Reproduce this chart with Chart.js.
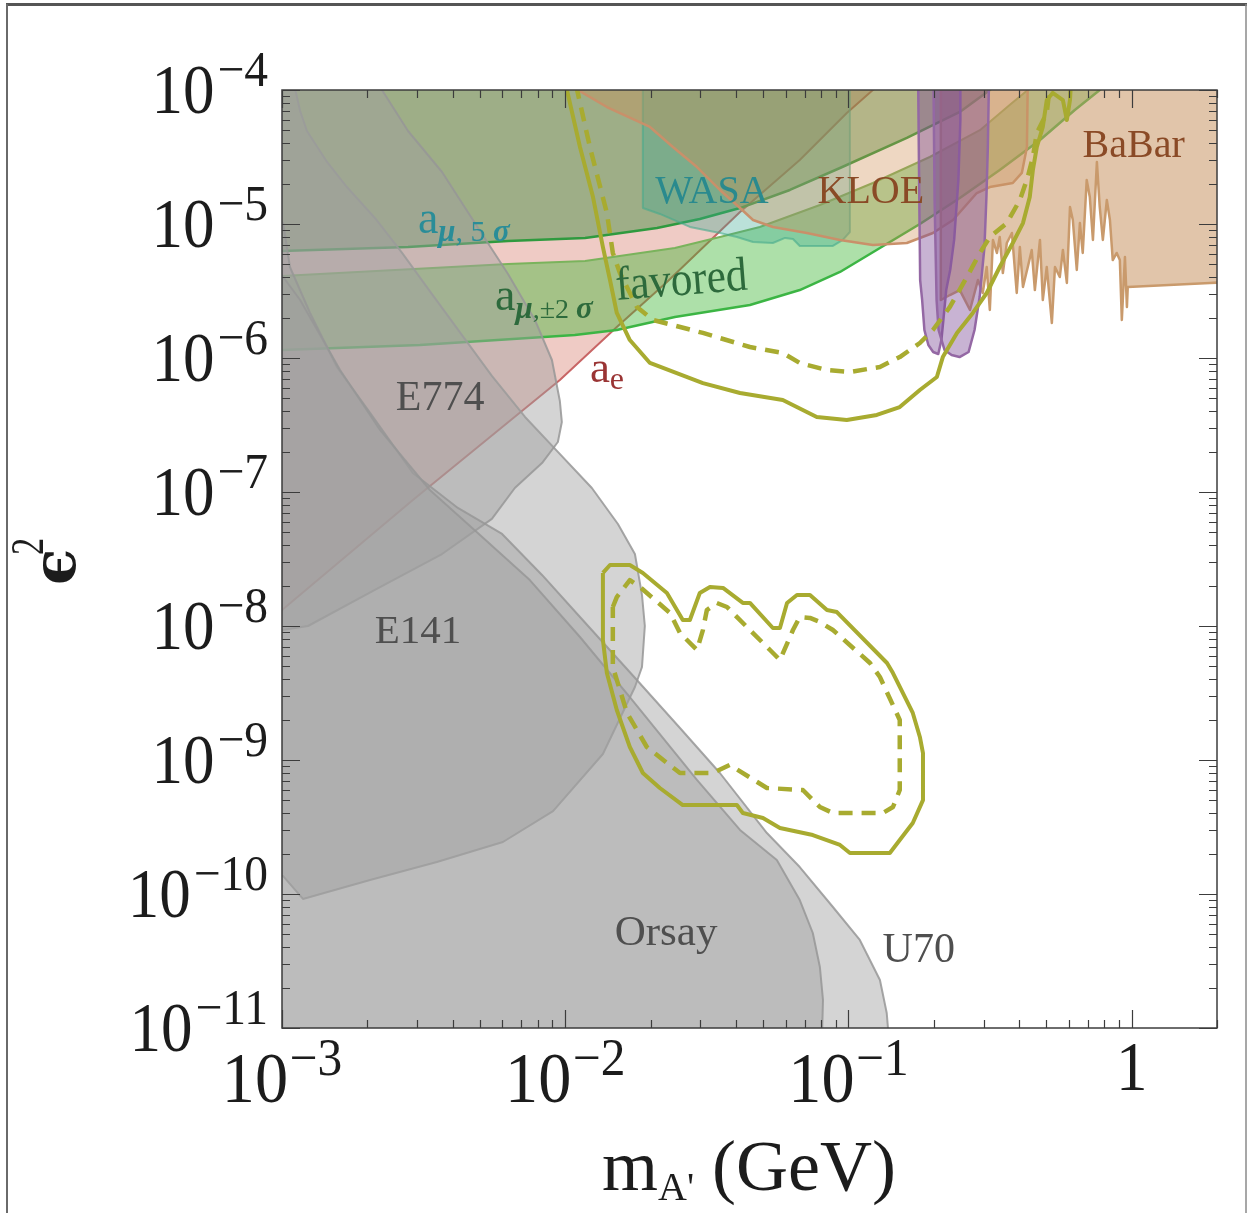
<!DOCTYPE html>
<html>
<head>
<meta charset="utf-8">
<script src="https://cdn.jsdelivr.net/npm/chart.js@4.4.1/dist/chart.umd.min.js"></script>
<style>
  html, body { margin: 0; padding: 0; background: #fff; }
  canvas { display: block; }
</style>
</head>
<body>
<canvas id="plot" width="1249" height="1213" style="width:1249px;height:1213px"></canvas>
<script>
// every point is [log10(m_A' / GeV), log10(eps^2)]

const E141 = [[-3.04,-3.925],[-2.961,-3.925],[-2.936,-4.157],[-2.912,-4.306],[-2.841,-4.537],[-2.771,-4.724],[-2.672,-4.955],[-2.576,-5.216],[-2.471,-5.522],[-2.365,-5.828],[-2.259,-6.134],[-2.142,-6.440],[-2.026,-6.701],[-1.906,-6.970],[-1.814,-7.239],[-1.754,-7.463],[-1.729,-7.769],[-1.719,-8.000],[-1.729,-8.306],[-1.754,-8.455],[-1.867,-8.955],[-2.043,-9.381],[-2.220,-9.612],[-2.453,-9.761],[-2.689,-9.896],[-2.926,-10.037],[-2.996,-9.866],[-3.04,-9.866]];

const E774 = [[-3.04,-3.925],[-2.654,-3.925],[-2.647,-4.000],[-2.555,-4.306],[-2.435,-4.612],[-2.319,-4.993],[-2.202,-5.373],[-2.107,-5.716],[-2.047,-6.015],[-2.019,-6.321],[-2.012,-6.478],[-2.026,-6.627],[-2.082,-6.784],[-2.178,-6.970],[-2.259,-7.201],[-2.435,-7.463],[-2.672,-7.731],[-2.908,-8.000],[-3.000,-8.030],[-3.04,-8.040]];

const U70 = [[-3.04,-4.933],[-2.996,-4.993],[-2.972,-5.321],[-2.901,-5.664],[-2.806,-6.067],[-2.689,-6.410],[-2.538,-6.858],[-2.379,-7.119],[-2.223,-7.313],[-2.082,-7.619],[-1.948,-7.933],[-1.747,-8.403],[-1.595,-8.761],[-1.454,-9.097],[-1.288,-9.545],[-1.172,-9.799],[-1.055,-10.097],[-0.960,-10.343],[-0.889,-10.642],[-0.865,-10.888],[-0.857,-11.09],[-3.04,-11.09]];

const ORSAY = [[-3.04,-5.269],[-2.936,-5.567],[-2.795,-6.090],[-2.654,-6.537],[-2.478,-6.985],[-2.301,-7.321],[-2.125,-7.657],[-1.948,-8.082],[-1.772,-8.530],[-1.535,-9.149],[-1.383,-9.522],[-1.253,-9.746],[-1.172,-10.045],[-1.126,-10.291],[-1.101,-10.545],[-1.090,-10.791],[-1.094,-11.09],[-3.04,-11.09]];

// a_e: everything above the red line
const A_E = [[-3.05,-7.97],[-3.00,-7.881],[-2.538,-7.060],[-2.019,-6.164],[-1.818,-5.769],[-1.641,-5.433],[-1.383,-4.910],[-1.172,-4.522],[-1.006,-4.172],[-0.914,-4.000],[-0.854,-3.888],[-3.05,-3.888]];

// a_mu 5 sigma: everything above the line
const FIVE_SIGMA = [[-3.04,-5.209],[-3.00,-5.201],[-2.555,-5.172],[-2.202,-5.127],[-1.930,-5.104],[-1.676,-5.030],[-1.525,-4.963],[-1.383,-4.881],[-1.207,-4.746],[-1.030,-4.582],[-0.794,-4.358],[-0.607,-4.164],[-0.501,-4.000],[-0.448,-3.910],[-3.04,-3.910]];

// a_mu +-2 sigma favoured band, upper and lower edge
const FAV_UP = [[-3.04,-5.396],[-3.00,-5.388],[-2.202,-5.299],[-1.930,-5.276],[-1.613,-5.179],[-1.454,-5.097],[-1.313,-5.022],[-1.101,-4.858],[-0.914,-4.694],[-0.713,-4.500],[-0.536,-4.300],[-0.430,-4.110],[-0.367,-4.000],[-0.324,-3.910]];
const FAV_LOW = [[-3.04,-5.948],[-3.00,-5.940],[-2.513,-5.903],[-1.966,-5.828],[-1.818,-5.791],[-1.613,-5.694],[-1.348,-5.604],[-1.172,-5.493],[-1.030,-5.358],[-0.889,-5.179],[-0.748,-5.000],[-0.607,-4.806],[-0.466,-4.597],[-0.324,-4.373],[-0.201,-4.149],[-0.113,-4.000],[-0.077,-3.940]];

const WASA = [[-1.726,-3.925],[-1.726,-4.881],[-1.666,-4.925],[-1.560,-5.022],[-1.454,-5.067],[-1.394,-5.097],[-1.337,-5.134],[-1.267,-5.142],[-1.224,-5.104],[-1.196,-5.112],[-1.172,-5.164],[-1.055,-5.164],[-1.020,-5.119],[-0.995,-5.060],[-0.995,-3.925]];

const KLOE = [[-1.973,-3.925],[-1.973,-3.978],[-1.853,-4.127],[-1.701,-4.276],[-1.620,-4.425],[-1.535,-4.575],[-1.454,-4.746],[-1.383,-4.881],[-1.337,-4.970],[-1.267,-5.022],[-1.147,-5.067],[-1.030,-5.119],[-0.914,-5.157],[-0.794,-5.142],[-0.702,-5.067],[-0.631,-4.970],[-0.547,-4.769],[-0.501,-4.724],[-0.420,-4.694],[-0.388,-4.619],[-0.370,-4.425],[-0.367,-3.925]];

const BABAR = [[-0.674,-3.925],[-0.674,-5.567],[-0.642,-5.530],[-0.607,-5.493],[-0.571,-5.642],[-0.543,-5.418],[-0.526,-5.515],[-0.512,-5.321],[-0.501,-5.642],[-0.490,-5.119],[-0.476,-5.216],[-0.466,-5.097],[-0.455,-5.366],[-0.441,-5.142],[-0.423,-5.067],[-0.406,-5.515],[-0.395,-5.172],[-0.384,-5.470],[-0.367,-5.321],[-0.353,-5.194],[-0.342,-5.493],[-0.324,-5.119],[-0.314,-5.567],[-0.300,-5.321],[-0.282,-5.739],[-0.271,-5.321],[-0.254,-5.396],[-0.243,-5.194],[-0.229,-5.440],[-0.218,-4.873],[-0.208,-4.970],[-0.194,-5.343],[-0.183,-4.993],[-0.173,-5.216],[-0.159,-4.672],[-0.148,-4.799],[-0.137,-5.119],[-0.123,-4.537],[-0.113,-4.873],[-0.102,-5.119],[-0.088,-4.821],[-0.077,-4.970],[-0.067,-5.269],[-0.053,-5.216],[-0.042,-5.269],[-0.035,-5.716],[-0.024,-5.246],[-0.017,-5.619],[-0.014,-5.470],[0.276,-5.440],[0.346,-5.433],[0.346,-3.925]];

const PURPLE_A = [[-0.754,-3.925],[-0.750,-4.821],[-0.747,-5.418],[-0.740,-5.567],[-0.732,-5.791],[-0.718,-5.903],[-0.701,-5.955],[-0.683,-5.970],[-0.672,-5.866],[-0.665,-5.716],[-0.655,-5.493],[-0.641,-5.343],[-0.627,-5.119],[-0.612,-4.672],[-0.605,-4.224],[-0.605,-3.925]];
const PURPLE_B = [[-0.700,-3.925],[-0.696,-4.821],[-0.689,-5.567],[-0.682,-5.791],[-0.661,-5.940],[-0.636,-5.978],[-0.608,-5.993],[-0.576,-5.955],[-0.555,-5.791],[-0.537,-5.545],[-0.520,-5.172],[-0.513,-4.799],[-0.508,-4.425],[-0.504,-3.925]];

// projected reach, upper contours (open) and lower island (closed)
const REACH_UP_SOLID = [[-1.998,-3.963],[-1.948,-4.425],[-1.902,-4.799],[-1.867,-5.172],[-1.842,-5.418],[-1.818,-5.664],[-1.772,-5.866],[-1.701,-6.037],[-1.514,-6.187],[-1.383,-6.261],[-1.232,-6.313],[-1.112,-6.440],[-1.006,-6.463],[-0.900,-6.425],[-0.819,-6.366],[-0.748,-6.239],[-0.688,-6.142],[-0.667,-5.993],[-0.617,-5.813],[-0.561,-5.664],[-0.512,-5.515],[-0.466,-5.321],[-0.420,-5.142],[-0.384,-4.993],[-0.360,-4.799],[-0.349,-4.597],[-0.335,-4.425],[-0.314,-4.276],[-0.300,-4.075],[-0.279,-4.022],[-0.243,-4.075],[-0.229,-4.224],[-0.218,-4.075],[-0.215,-3.963]];
const REACH_UP_DASHED = [[-1.962,-3.963],[-1.913,-4.425],[-1.853,-4.918],[-1.832,-5.216],[-1.807,-5.366],[-1.747,-5.619],[-1.690,-5.716],[-1.514,-5.813],[-1.348,-5.918],[-1.232,-5.963],[-1.172,-6.037],[-1.076,-6.090],[-0.995,-6.104],[-0.889,-6.067],[-0.819,-5.993],[-0.748,-5.888],[-0.702,-5.791],[-0.642,-5.619],[-0.582,-5.396],[-0.536,-5.216],[-0.501,-5.097],[-0.441,-4.993],[-0.395,-4.821],[-0.367,-4.649],[-0.349,-4.500],[-0.335,-4.321],[-0.300,-4.172],[-0.289,-3.963]];
const REACH_LOW_SOLID = [[-1.867,-7.604],[-1.842,-7.545],[-1.772,-7.545],[-1.726,-7.604],[-1.641,-7.754],[-1.585,-7.955],[-1.560,-7.955],[-1.525,-7.754],[-1.489,-7.709],[-1.443,-7.716],[-1.373,-7.828],[-1.348,-7.828],[-1.267,-8.015],[-1.242,-8.015],[-1.217,-7.828],[-1.182,-7.769],[-1.136,-7.769],[-1.076,-7.881],[-1.041,-7.896],[-0.864,-8.276],[-0.843,-8.351],[-0.773,-8.649],[-0.748,-8.828],[-0.737,-8.948],[-0.737,-9.299],[-0.773,-9.470],[-0.819,-9.597],[-0.854,-9.694],[-0.995,-9.694],[-1.030,-9.634],[-1.126,-9.560],[-1.242,-9.507],[-1.302,-9.433],[-1.373,-9.396],[-1.394,-9.336],[-1.585,-9.336],[-1.666,-9.209],[-1.726,-9.097],[-1.772,-8.903],[-1.818,-8.627],[-1.853,-8.351],[-1.867,-8.104]];
const REACH_LOW_DASHED = [[-1.832,-7.858],[-1.818,-7.784],[-1.772,-7.657],[-1.736,-7.709],[-1.630,-7.903],[-1.595,-8.052],[-1.535,-8.179],[-1.514,-8.030],[-1.500,-7.881],[-1.465,-7.828],[-1.429,-7.858],[-1.359,-8.007],[-1.277,-8.179],[-1.242,-8.254],[-1.196,-8.030],[-1.172,-7.933],[-1.136,-7.940],[-1.101,-7.970],[-1.055,-8.030],[-0.924,-8.276],[-0.889,-8.381],[-0.819,-8.701],[-0.819,-9.224],[-0.843,-9.351],[-0.879,-9.396],[-1.055,-9.396],[-1.101,-9.351],[-1.161,-9.224],[-1.288,-9.209],[-1.419,-9.037],[-1.479,-9.097],[-1.595,-9.097],[-1.641,-9.022],[-1.712,-8.903],[-1.782,-8.649],[-1.832,-8.306]];

const X_TICKS = [1e-3, 1e-2, 1e-1, 1];
const X_TICK_TEXT = [['10', '−3'], ['10', '−2'], ['10', '−1'], ['1', '']];
const Y_TICKS = [1e-4, 1e-5, 1e-6, 1e-7, 1e-8, 1e-9, 1e-10, 1e-11];
const Y_TICK_TEXT = [['10', '−4'], ['10', '−5'], ['10', '−6'], ['10', '−7'], ['10', '−8'], ['10', '−9'], ['10', '−10'], ['10', '−11']];

// region labels, anchored in the same log units
const LABELS = [
  { at: [-1.482, -4.843], color: '#2a8a8e', align: 'center', runs: [['WASA', 40]] },
  { at: [-0.921, -4.843], color: '#8a4a26', align: 'center', runs: [['KLOE', 40]] },
  { at: [0.007, -4.500], color: '#8a4a26', align: 'center', runs: [['BaBar', 40]] },
  { at: [-2.442, -6.388], color: '#4f4f4f', align: 'center', runs: [['E774', 42]] },
  { at: [-2.520, -8.127], color: '#4f4f4f', align: 'center', runs: [['E141', 41]] },
  { at: [-1.644, -10.381], color: '#4f4f4f', align: 'center', runs: [['Orsay', 43]] },
  { at: [-0.752, -10.507], color: '#4f4f4f', align: 'center', runs: [['U70', 42]] },
  { at: [-1.913, -6.179], color: '#9a3434', align: 'left', runs: [['a', 45], ['e', 32, 7]] },
  { at: [-2.520, -5.067], color: '#2a8d98', align: 'left', runs: [['a', 46], ['μ', 31, 8, 'italic bold '], [', 5 ', 30, 8], ['σ', 31, 8, 'italic bold ']] },
  { at: [-2.248, -5.642], color: '#2d6a3c', align: 'left', runs: [['a', 46], ['μ', 31, 8, 'italic bold '], [',±2 ', 28, 8], ['σ', 31, 8, 'italic bold ']] },
  { at: [-1.818, -5.567], color: '#2d6a3c', align: 'left', rot: -4.5, runs: [['favored', 48, 0, '', 0.9]] }
];

const SERIF = '"Liberation Serif", "DejaVu Serif", serif';

const toXY = arr => arr.map(([lm, le]) => ({ x: Math.pow(10, lm), y: Math.pow(10, le) }));
const closed = arr => toXY(arr.concat([arr[0]]));

function region(data, fill, line, width) {
  return {
    data: closed(data), fill: 'shape', backgroundColor: fill,
    borderColor: line || 'rgba(0,0,0,0)', borderWidth: width || 1
  };
}
function curve(data, color, width, dash) {
  return { data: toXY(data), fill: false, borderColor: color, borderWidth: width, borderDash: dash || [] };
}

// bottom layer first
const GRAY_FILL = 'rgba(160,160,160,0.45)';
const GRAY_LINE = 'rgba(150,150,150,0.85)';
const YELLOW = '#a8ab30';
const DASH = [14, 9];
const layers = [
  region(A_E, 'rgba(215,125,110,0.40)', '#c86565', 2),
  region(FAV_UP.concat(FAV_LOW.slice().reverse()), 'rgba(60,180,50,0.42)'),
  curve(FAV_UP, '#7ab35c', 2),
  curve(FAV_LOW, '#3cb544', 2.5),
  region(FIVE_SIGMA, 'rgba(60,140,60,0.45)', '#2f9a3f', 2.5),
  region(WASA, 'rgba(60,170,145,0.35)', 'rgba(70,170,140,0.6)', 2),
  region(KLOE, 'rgba(205,140,80,0.35)', '#c9906a', 2.5),
  region(BABAR, 'rgba(200,150,100,0.55)', '#c99a6c', 2.5),
  region(E141, GRAY_FILL, GRAY_LINE, 2),
  region(E774, GRAY_FILL, GRAY_LINE, 2),
  region(U70, GRAY_FILL, GRAY_LINE, 2),
  region(ORSAY, GRAY_FILL, GRAY_LINE, 2),
  region(PURPLE_A, 'rgba(125,75,150,0.42)', '#9468a4', 2.5),
  region(PURPLE_B, 'rgba(125,75,150,0.42)', '#9468a4', 2.5),
  curve(REACH_UP_SOLID, YELLOW, 4),
  curve(REACH_UP_DASHED, YELLOW, 4.5, DASH),
  curve(REACH_LOW_SOLID.concat([REACH_LOW_SOLID[0]]), YELLOW, 4),
  curve(REACH_LOW_DASHED.concat([REACH_LOW_DASHED[0]]), YELLOW, 4.5, DASH)
];
layers.forEach((d, i) => { d.order = layers.length - i; });

function drawRuns(c, runs, x, y, align, color, rot) {
  const parts = runs.map(([t, size, dy, style, sx]) => {
    const font = (style || '') + size + 'px ' + SERIF;
    c.font = font;
    return { t, font, dy: dy || 0, sx: sx || 1, w: c.measureText(t).width * (sx || 1) };
  });
  const total = parts.reduce((s, p) => s + p.w, 0);
  c.save();
  c.translate(x, y);
  if (rot) c.rotate(rot * Math.PI / 180);
  let cx = align === 'center' ? -total / 2 : align === 'right' ? -total : 0;
  c.fillStyle = color;
  c.textAlign = 'left';
  c.textBaseline = 'alphabetic';
  parts.forEach(p => {
    c.save();
    c.translate(cx, p.dy);
    c.scale(p.sx, 1);
    c.font = p.font;
    c.fillText(p.t, 0, 0);
    c.restore();
    cx += p.w;
  });
  c.restore();
}

const decor = {
  id: 'decor',
  beforeDraw(chart) {
    const c = chart.ctx;
    c.save();
    c.fillStyle = '#fff';
    c.fillRect(0, 0, chart.width, chart.height);
    c.restore();
  },
  afterDraw(chart) {
    const c = chart.ctx, a = chart.chartArea;
    const sx = chart.scales.x, sy = chart.scales.y;
    c.save();

    LABELS.forEach(l => {
      const px = sx.getPixelForValue(Math.pow(10, l.at[0]));
      const py = sy.getPixelForValue(Math.pow(10, l.at[1]));
      drawRuns(c, l.runs, px, py, l.align, l.color, l.rot);
    });

    // plot frame and inward ticks on all four sides
    c.strokeStyle = '#3c3c3c';
    c.lineWidth = 1.5;
    c.strokeRect(a.left, a.top, a.right - a.left, a.bottom - a.top);
    c.lineWidth = 1.2;
    c.beginPath();
    for (let e = -3; e <= 0; e++) {
      for (let k = 1; k <= 9; k++) {
        const v = k * Math.pow(10, e);
        if (v < sx.min || v > sx.max) continue;
        const p = Math.round(sx.getPixelForValue(v)) + 0.5;
        const len = k === 1 ? 18 : 8;
        c.moveTo(p, a.bottom); c.lineTo(p, a.bottom - len);
        c.moveTo(p, a.top); c.lineTo(p, a.top + len);
      }
    }
    for (let e = -11; e <= -4; e++) {
      for (let k = 1; k <= 9; k++) {
        const v = k * Math.pow(10, e);
        if (v < sy.min * 0.999 || v > sy.max * 1.001) continue;
        const p = Math.round(sy.getPixelForValue(v)) + 0.5;
        const len = k === 1 ? 18 : 8;
        c.moveTo(a.left, p); c.lineTo(a.left + len, p);
        c.moveTo(a.right, p); c.lineTo(a.right - len, p);
      }
    }
    c.stroke();

    // tick labels
    const INK = '#1c1c1c';
    Y_TICKS.forEach((v, i) => {
      const p = sy.getPixelForValue(v);
      const [base, exp] = Y_TICK_TEXT[i];
      drawRuns(c, [[exp, 50, -27, '', 0.95]], a.left - 14, p + 23, 'right', INK);
      c.font = '50px ' + SERIF;
      const we = c.measureText(exp).width * 0.95;
      drawRuns(c, [[base, 70, 0, '', 0.9]], a.left - 17 - we, p + 23, 'right', INK);
    });
    X_TICKS.forEach((v, i) => {
      const p = sx.getPixelForValue(v);
      const [base, exp] = X_TICK_TEXT[i];
      if (!exp) {
        drawRuns(c, [[base, 70, 0, '', 0.9]], p, a.bottom + 62, 'center', INK);
      } else {
        drawRuns(c, [[base, 72, 0, '', 0.92], [' ', 6], [exp, 52, -27, '', 0.95]], p, a.bottom + 74, 'center', INK);
      }
    });

    // axis titles
    drawRuns(c, [['m', 72], ['A\'', 40, 10], [' (GeV)', 72]], 749, 1190, 'center', INK);
    c.save();
    c.translate(75, 585);
    c.rotate(-Math.PI / 2);
    c.fillStyle = INK;
    c.font = 'bold 60px "DejaVu Serif", serif';
    c.textAlign = 'left';
    c.fillText('ϵ', 0, 0);
    c.scale(0.75, 1);
    c.font = '46px ' + SERIF;
    c.fillText('2', 40, -32);
    c.restore();

    // outer figure border
    c.strokeStyle = '#555';
    c.lineWidth = 3;
    c.beginPath(); c.moveTo(6, 4.5); c.lineTo(1247, 4.5); c.stroke();
    c.lineWidth = 2;
    c.strokeStyle = '#6a6a6a';
    c.beginPath(); c.moveTo(7, 4); c.lineTo(7, 1213); c.stroke();
    c.lineWidth = 1.5;
    c.strokeStyle = '#8a8a8a';
    c.beginPath(); c.moveTo(1246, 4); c.lineTo(1246, 1213); c.stroke();
    c.restore();
  }
};

new Chart(document.getElementById('plot').getContext('2d'), {
  type: 'line',
  data: { datasets: layers },
  options: {
    responsive: false,
    animation: false,
    devicePixelRatio: 1,
    layout: { padding: { left: 282, top: 90, right: 32, bottom: 185 } },
    elements: { point: { radius: 0, hitRadius: 0 }, line: { tension: 0, borderJoinStyle: 'round' } },
    scales: {
      x: { type: 'logarithmic', min: 1e-3, max: 2, bounds: 'data', display: false },
      y: { type: 'logarithmic', min: 1e-11, max: 1e-4, bounds: 'data', display: false }
    },
    plugins: { legend: { display: false }, tooltip: { enabled: false } },
    events: []
  },
  plugins: [decor]
});
</script>
</body>
</html>
